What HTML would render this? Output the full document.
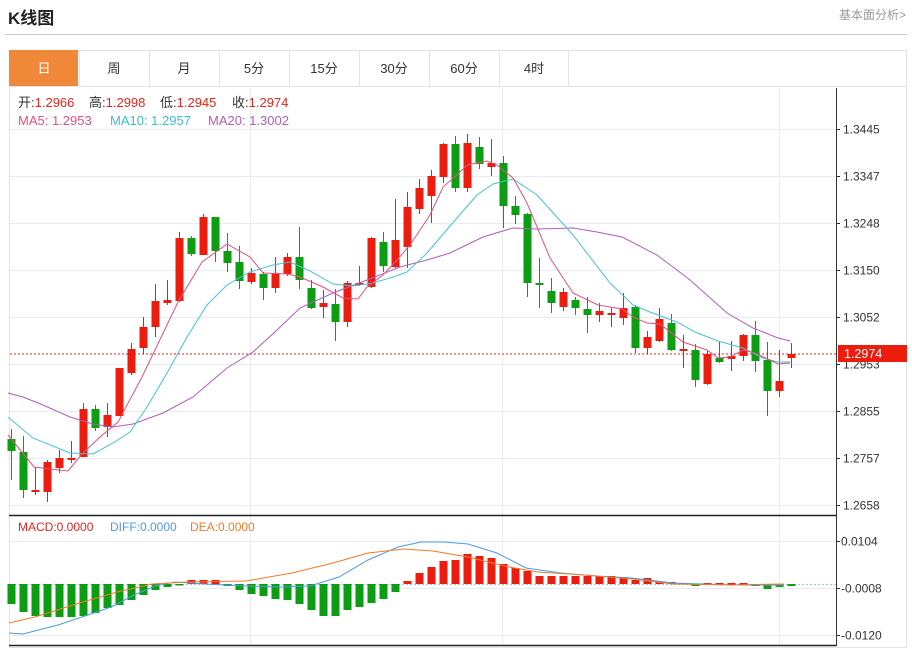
<!DOCTYPE html>
<html><head><meta charset="utf-8"><style>
body{margin:0;background:#fff;width:912px;height:650px;overflow:hidden;font-family:"Liberation Sans","Noto Sans CJK SC",sans-serif;}
#t{position:absolute;left:8px;top:4px;font-size:17px;font-weight:bold;color:#222}
#r{position:absolute;right:6px;top:6px;font-size:12px;color:#999}
</style></head><body>
<div id="t">K线图</div><div id="r">基本面分析&gt;</div>
<svg id="s" width="912" height="650" style="position:absolute;left:0;top:0" xmlns="http://www.w3.org/2000/svg" font-family="Liberation Sans, Noto Sans CJK SC, sans-serif"></svg>
<script>
var s=document.getElementById('s'),h='';
h+='<line x1="5" y1="34.5" x2="907" y2="34.5" stroke="#ccc"/>';
h+='<rect x="9.5" y="50.5" width="897" height="597" fill="none" stroke="#e3e3e3"/>';
h+='<line x1="9" y1="86.5" x2="907" y2="86.5" stroke="#e3e3e3"/>';
h+='<rect x="9" y="50" width="69" height="36" fill="#f0883a"/>';
var tabs=['日','周','月','5分','15分','30分','60分','4时'];
for(var i=0;i<8;i++){var x=9+70*i;if(i>0)h+='<line x1="'+(x+.5)+'" y1="50" x2="'+(x+.5)+'" y2="86" stroke="#e3e3e3"/>';
h+='<text x="'+(x+35)+'" y="73" font-size="13" text-anchor="middle" fill="'+(i?'#333':'#fff')+'">'+tabs[i]+'</text>';}
h+='<line x1="568.5" y1="50" x2="568.5" y2="86" stroke="#e3e3e3"/>';
var py=[129,176,223,270,317,364,411,458,505],pl=['1.3445','1.3347','1.3248','1.3150','1.3052','1.2953','1.2855','1.2757','1.2658'];
py.forEach(function(y,k){h+='<line x1="10" y1="'+(y+.5)+'" x2="836" y2="'+(y+.5)+'" stroke="#e8ecf0"/>';
h+='<line x1="836" y1="'+(y+.5)+'" x2="840" y2="'+(y+.5)+'" stroke="#333"/><text x="843" y="'+(y+4.5)+'" font-size="12" fill="#333">'+pl[k]+'</text>';});
[250,502,779].forEach(function(x){h+='<line x1="'+(x+.5)+'" y1="88" x2="'+(x+.5)+'" y2="646" stroke="#e8ecf0"/>';});
h+='<line x1="836.5" y1="88" x2="836.5" y2="646" stroke="#333"/>';
h+='<line x1="9" y1="515.5" x2="836" y2="515.5" stroke="#222" stroke-width="1.5"/><line x1="9" y1="645.5" x2="836" y2="645.5" stroke="#222" stroke-width="1.5"/>';
[[541,'0.0104'],[588,'-0.0008'],[635,'-0.0120']].forEach(function(a){h+='<line x1="10" y1="'+(a[0]+.5)+'" x2="836" y2="'+(a[0]+.5)+'" stroke="#e8ecf0"/><line x1="836" y1="'+(a[0]+.5)+'" x2="840" y2="'+(a[0]+.5)+'" stroke="#333"/><text x="841" y="'+(a[0]+4.5)+'" font-size="12" fill="#333">'+a[1]+'</text>';});
// legend
[[18,'开:','1.2966'],[89,'高:','1.2998'],[160,'低:','1.2945'],[232,'收:','1.2974']].forEach(function(a){h+='<text x="'+a[0]+'" y="107" font-size="13" fill="#333">'+a[1]+'<tspan fill="#e8231a">'+a[2]+'</tspan></text>';});
h+='<text x="18" y="125" font-size="13" fill="#e4507f">MA5: 1.2953</text><text x="110" y="125" font-size="13" fill="#3cbfcc">MA10: 1.2957</text><text x="208" y="125" font-size="13" fill="#b05cbd">MA20: 1.3002</text>';
h+='<text x="18" y="531" font-size="12" fill="#e8231a">MACD:0.0000</text><text x="110" y="531" font-size="12" fill="#4a9be0">DIFF:0.0000</text><text x="190" y="531" font-size="12" fill="#f07a2a">DEA:0.0000</text>';
h+='<line x1="10" y1="354" x2="836" y2="354" stroke="#e8231a" stroke-dasharray="2,2"/>';
var C=[[439,451,429,480,'g'],[452,490,436,498,'g'],[490,491,467,495,'r'],[462,492,460,502,'r'],[458,468,450,473,'r'],[458,460,441,463,'r'],[409,457,403,457,'r'],[409,428,405,431,'g'],[415,427,403,437,'r'],[368,416,368,416,'r'],[349,373,343,375,'r'],[327,348,317,354,'r'],[301,327,284,337,'r'],[300,303,280,305,'r'],[238,301,232,302,'r'],[238,254,236,256,'g'],[217,255,214,255,'r'],[217,251,217,262,'g'],[251,263,233,272,'g'],[262,281,246,289,'g'],[273,282,268,284,'r'],[274,288,272,300,'g'],[273,288,257,293,'r'],[257,274,253,276,'r'],[257,280,227,289,'g'],[288,308,280,309,'g'],[303,307,290,318,'r'],[304,322,289,341,'g'],[283,322,281,327,'r'],[283,285,266,286,'r'],[238,287,237,288,'r'],[242,266,232,272,'g'],[240,267,199,268,'r'],[207,247,192,268,'r'],[188,209,179,214,'r'],[176,196,170,223,'r'],[144,177,143,183,'r'],[144,188,136,192,'g'],[143,188,134,192,'r'],[147,164,137,169,'g'],[163,167,139,176,'r'],[163,206,156,228,'g'],[206,215,196,224,'g'],[214,283,213,297,'g'],[283,285,258,308,'g'],[291,303,278,313,'g'],[292,307,288,311,'r'],[300,308,297,315,'g'],[309,315,297,333,'g'],[311,315,303,322,'r'],[313,314,308,327,'r'],[308,318,293,325,'r'],[307,348,305,353,'g'],[337,348,331,354,'r'],[319,341,308,342,'r'],[323,350,314,351,'g'],[349,351,335,368,'r'],[350,380,344,387,'g'],[354,384,350,385,'r'],[358,362,342,363,'g'],[356,359,341,371,'r'],[335,356,334,361,'r'],[335,361,321,372,'g'],[360,391,342,416,'g'],[381,391,350,397,'r'],[354,358,343,368,'r']];
var RED='#ec1c0e',GRN='#0d9d12';
C.forEach(function(c,i){var x=11+12*i,col=c[4]=='r'?RED:GRN;
h+='<line x1="'+(x+.5)+'" y1="'+c[2]+'" x2="'+(x+.5)+'" y2="'+c[3]+'" stroke="'+col+'"/>';
h+='<rect x="'+(x-3.5)+'" y="'+c[0]+'" width="8" height="'+Math.max(2,c[1]-c[0])+'" fill="'+col+'"/>';});
function pl_(p,col){return '<polyline fill="none" stroke="'+col+'" stroke-width="1" points="'+p.map(function(a){return a.join(',')}).join(' ')+'"/>';}
h+=pl_([[8,393],[23,397],[43,405],[70,417],[93,424],[113,427],[133,424],[163,413],[193,397],[227,368],[253,352],[277,330],[300,308],[333,293],[367,280],[400,267],[427,260],[450,253],[483,237],[513,228],[537,229],[573,228],[597,232],[622,237],[657,255],[690,280],[727,313],[753,328],[778,338],[790,341]],'#b05cbd');
h+=pl_([[8,417],[33,438],[70,453],[93,454],[113,443],[130,432],[147,407],[167,373],[187,337],[207,305],[227,285],[250,272],[273,265],[290,262],[310,271],[333,284],[353,286],[373,283],[393,277],[407,272],[427,253],[450,226],[477,195],[493,184],[513,179],[537,195],[573,235],[610,283],[633,305],[650,312],[677,322],[695,332],[718,341],[743,348],[763,358],[778,362],[790,362]],'#45c3cf');
h+=pl_([[8,435],[34,467],[68,471],[83,453],[100,437],[118,422],[142,377],[178,302],[202,262],[227,244],[250,257],[263,273],[287,274],[300,277],[323,287],[343,298],[358,299],[367,287],[383,275],[397,260],[410,245],[430,215],[443,187],[459,173],[467,165],[487,161],[497,165],[513,178],[527,203],[550,258],[573,293],[598,305],[622,309],[633,317],[647,323],[660,324],[683,342],[707,350],[718,358],[730,357],[743,350],[755,353],[778,364],[790,363]],'#e4507f');
h+='<rect x="838" y="345" width="69" height="17" fill="#ec1c0e"/><text x="844" y="358" font-size="12.5" fill="#fff">1.2974</text>';
var M=[604,612,616,617,617,617,616,613,608,605,600,595,590,587,585,580,580,580,586,590,594,596,599,600,604,610,616,616,610,607,603,599,592,581,573,567,561,560,554,556,558,564,568,571,576,576,576,576,576,576,576,577,580,578,582,582,583,586,583,583,583,583,586,589,587,586];
var Z=584;
h+='<line x1="10" y1="584.5" x2="836" y2="584.5" stroke="#9cc8e8" stroke-dasharray="2,2"/>';
M.forEach(function(v,i){var x=11+12*i,col=v>Z?GRN:RED;var y=Math.min(v,Z),hh=Math.max(1.5,Math.abs(v-Z));h+='<rect x="'+(x-3.5)+'" y="'+y+'" width="8" height="'+hh+'" fill="'+col+'"/>';});
h+=pl_([[9,633],[23,634],[58,625],[88,615],[111,607],[134,595],[155,586],[175,582],[205,584],[246,586],[281,587],[310,586],[339,577],[368,560],[398,547],[421,542],[444,542],[468,544],[497,553],[526,568],[561,573],[596,576],[632,578],[673,583],[731,585],[784,585]],'#4a9be0');
h+=pl_([[9,623],[35,617],[76,604],[117,592],[152,584],[187,582],[246,581],[292,573],[333,563],[368,553],[404,549],[433,551],[468,557],[509,567],[538,572],[585,575],[632,579],[673,584],[731,585],[784,584]],'#f07a2a');
s.innerHTML=h;
</script>
</body></html>
